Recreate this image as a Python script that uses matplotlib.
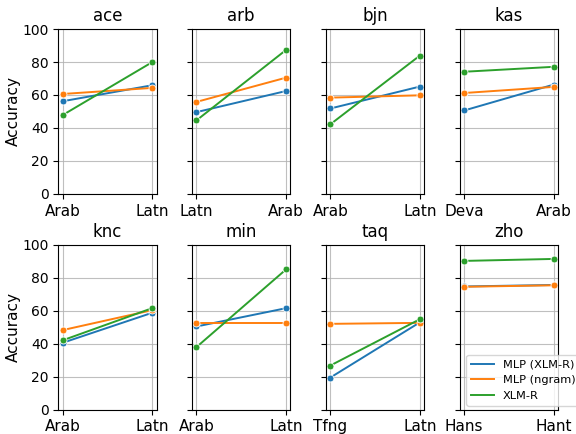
import matplotlib
matplotlib.use("Agg")
import matplotlib.pyplot as plt

# languages and their script pairs (x tick labels)
languages = ["ace", "arb", "bjn", "kas", "knc", "min", "taq", "zho"]
scripts = [
    ["Arab", "Latn"],
    ["Latn", "Arab"],
    ["Arab", "Latn"],
    ["Deva", "Arab"],
    ["Arab", "Latn"],
    ["Arab", "Latn"],
    ["Tfng", "Latn"],
    ["Hans", "Hant"],
]

# accuracy per language, [first script, second script]
mlp_xlmr = [
    [56.2, 65.9],
    [49.6, 62.4],
    [51.8, 65.1],
    [50.6, 66.3],
    [40.6, 58.8],
    [50.5, 61.6],
    [19.5, 53.0],
    [74.8, 75.7],
]
mlp_ngram = [
    [60.6, 64.3],
    [55.8, 70.5],
    [58.4, 59.8],
    [61.2, 64.9],
    [48.3, 60.4],
    [52.7, 52.7],
    [52.1, 52.7],
    [74.6, 75.5],
]
xlmr = [
    [47.8, 79.9],
    [44.6, 87.3],
    [42.2, 83.9],
    [74.1, 77.1],
    [42.1, 61.6],
    [38.0, 85.1],
    [26.8, 54.9],
    [90.3, 91.5],
]

series = [("MLP (XLM-R)", mlp_xlmr, "tab:blue"),
          ("MLP (ngram)", mlp_ngram, "tab:orange"),
          ("XLM-R", xlmr, "tab:green")]

fig, axes = plt.subplots(2, 4, figsize=(5.76, 4.34), dpi=100, sharey=True)
fig.subplots_adjust(left=0.101, right=0.969, top=0.933, bottom=0.056,
                    wspace=0.36, hspace=0.31)

for i, ax in enumerate(axes.flat):
    for name, vals, col in series:
        ax.plot([0, 1], vals[i], color=col, lw=1.4, label=name)
        ax.plot([0, 1], vals[i], "o", color=col, ms=5,
                markeredgecolor="white", markeredgewidth=0.6)
    ax.set_title(languages[i], fontsize=12)
    ax.set_xticks([0, 1])
    ax.set_xticklabels(scripts[i], fontsize=11)
    ax.set_ylim(0, 100)
    ax.set_yticks([0, 20, 40, 60, 80, 100])
    ax.tick_params(axis="y", labelsize=10)
    ax.grid(True, color="#b0b0b0", lw=0.8, alpha=0.8)
    ax.set_axisbelow(True)
    if i % 4 == 0:
        ax.set_ylabel("Accuracy", fontsize=11, labelpad=1)

axes[1, 3].legend(loc="lower right", bbox_to_anchor=(1.28, -0.01),
                  fontsize=8.2)

fig.savefig("out.png", dpi=100)
